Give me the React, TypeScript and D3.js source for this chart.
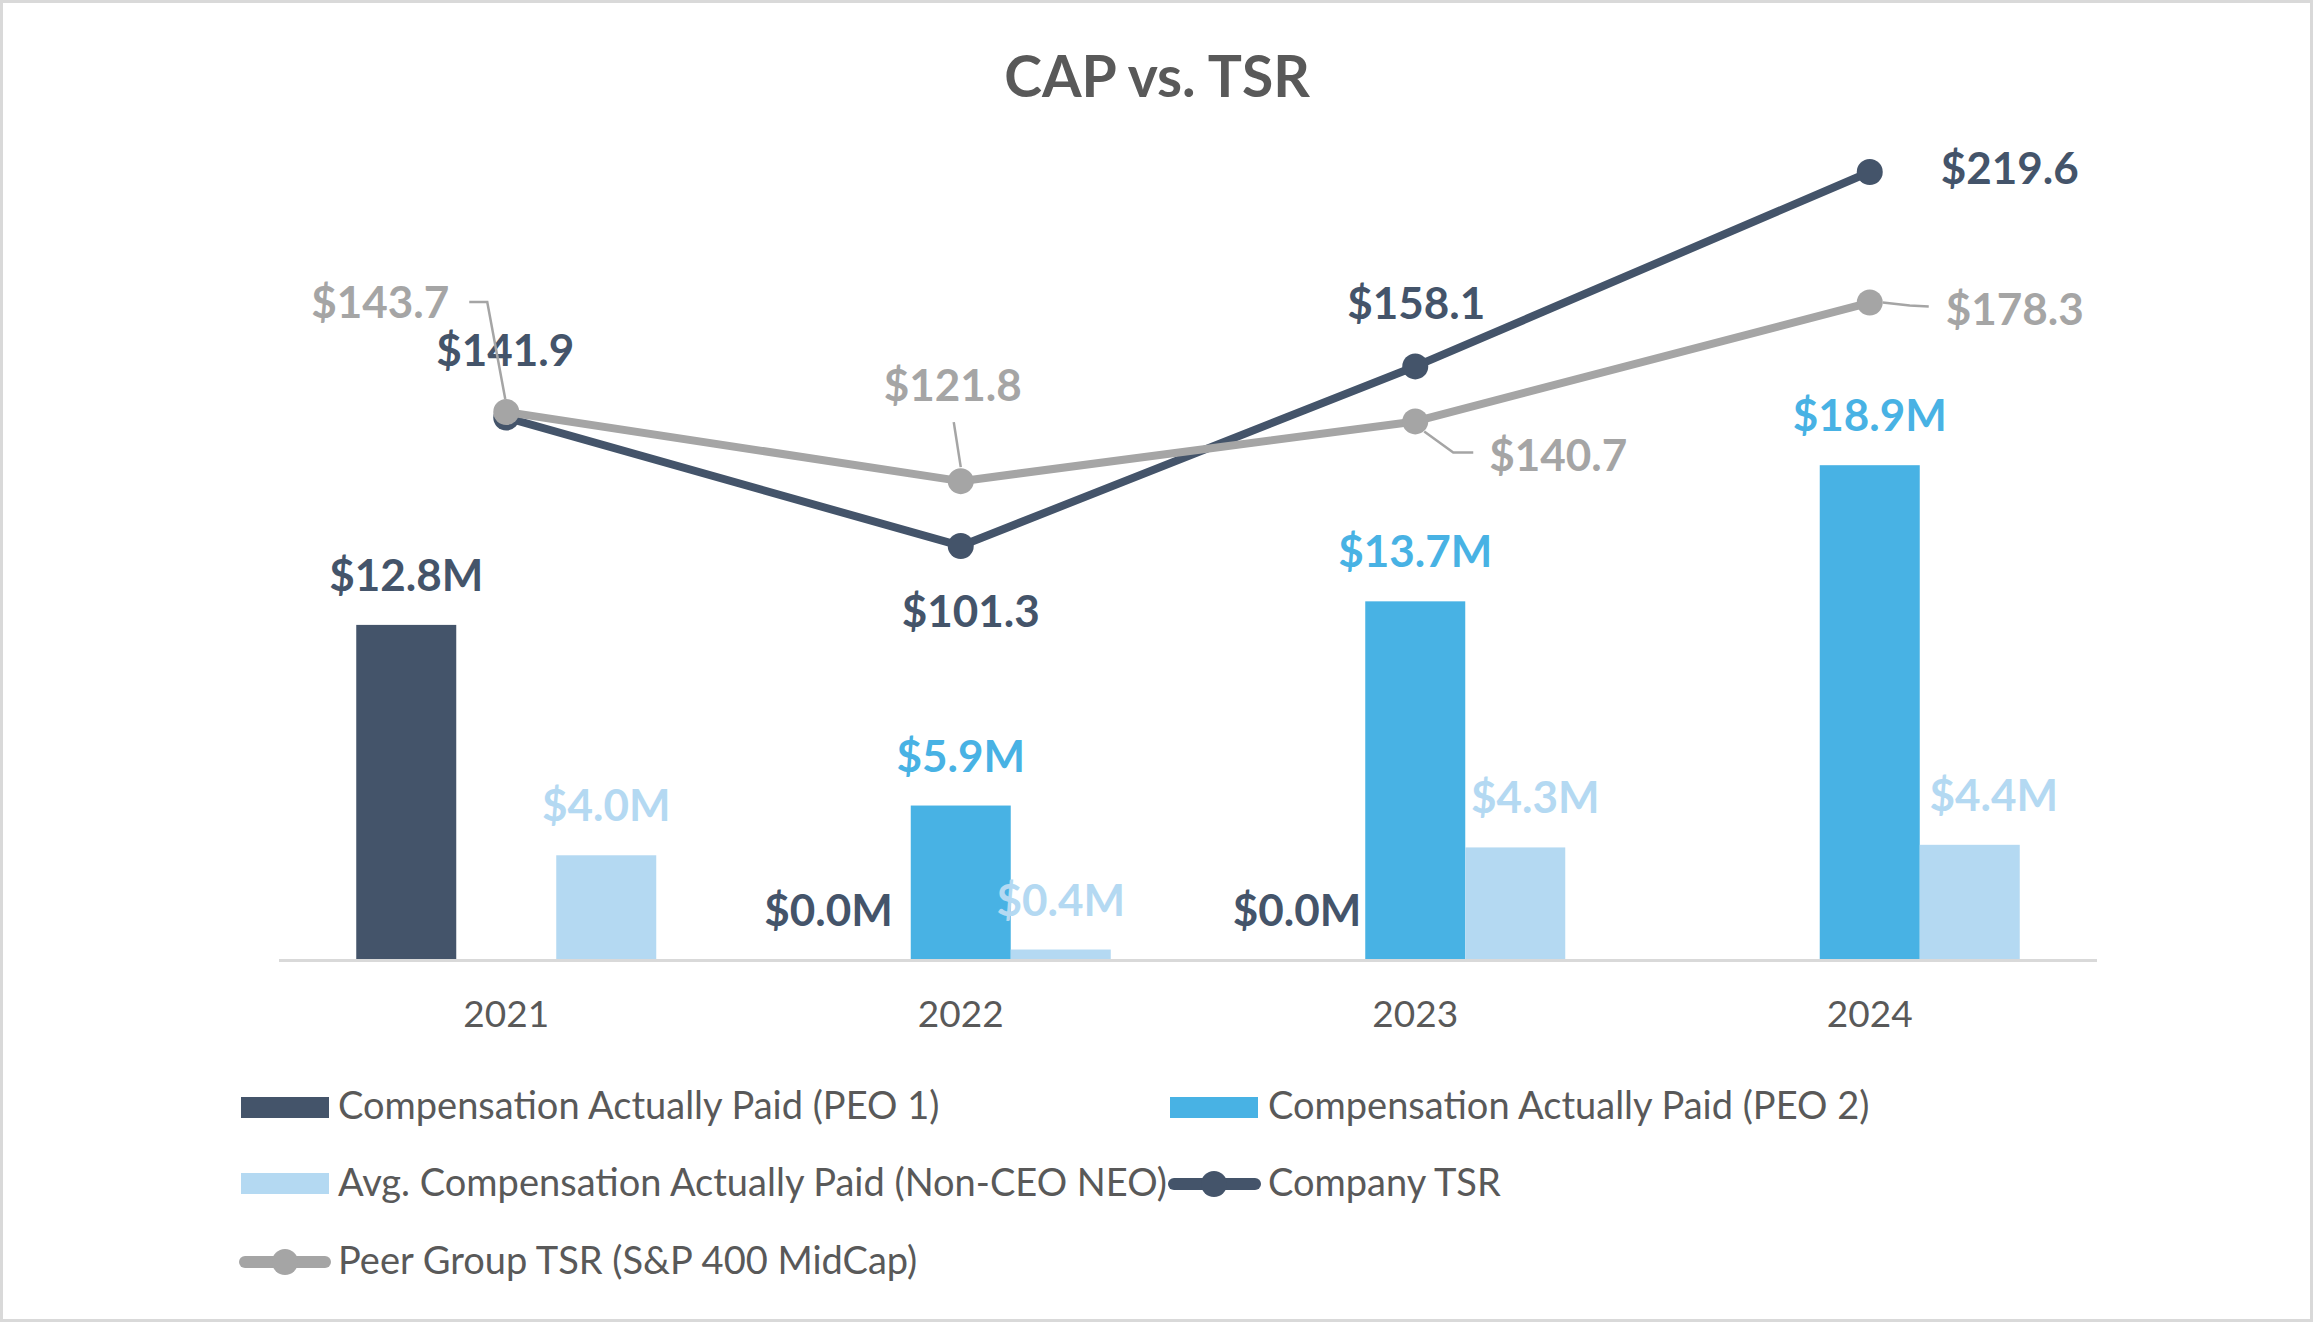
import React from "react";
import * as d3 from "d3";

const years = ["2021", "2022", "2023", "2024"];
const capPeo1: (number | null)[] = [12.8, 0.0, 0.0, null];
const capPeo2: (number | null)[] = [null, 5.9, 13.7, 18.9];
const capNonCeo: (number | null)[] = [4.0, 0.4, 4.3, 4.4];
const companyTsr = [141.9, 101.3, 158.1, 219.6];
const peerTsr = [143.7, 121.8, 140.7, 178.3];

const seriesNames = [
  "Compensation Actually Paid (PEO 1)",
  "Compensation Actually Paid (PEO 2)",
  "Avg. Compensation Actually Paid (Non-CEO NEO)",
  "Company TSR",
  "Peer Group TSR (S&P 400 MidCap)",
];

const W = 2313;
const H = 1322;
const FONT = "Lato, 'Open Sans', sans-serif";

const C_PEO1 = "#44546A";
const C_PEO2 = "#48B2E4";
const C_NON = "#B4D9F2";
const C_COMP = "#44546A";
const C_PEER = "#A5A5A5";
const C_TEXT = "#595959";

// label placement tweaks (relative to marker / bar), kept apart from the data
const compLabelPos = [
  { dx: -1, dy: -52, anchor: "middle" },
  { dx: 10, dy: 81, anchor: "middle" },
  { dx: 1, dy: -47, anchor: "middle" },
  { dx: 71, dy: 12, anchor: "start" },
];
const peerLabelPos = [
  { dx: -57, dy: -94, anchor: "end", leader: [[-37, -110], [-19, -110], [-1, -13]] },
  { dx: -8, dy: -80, anchor: "middle", leader: [[-7, -59], [0, -14]] },
  { dx: 74, dy: 50, anchor: "start", leader: [[9, 10], [38, 31], [58, 31]] },
  { dx: 76, dy: 22, anchor: "start", leader: [[13, 0], [40, 3], [59, 4]] },
];
// zero-value labels are right-aligned relative to the bar slot's right edge
const peo1ZeroDx = [0, -18, -4, 0];
const nonLabelDx = [0, 0, 20, 24];

export default function App() {
  const x = d3.scaleBand<string>().domain(years).range([279, 2097]).padding(0);
  const cx = (i: number) => (x(years[i]) as number) + x.bandwidth() / 2;
  const barW = 100;
  const yL = d3.scaleLinear().domain([0, 30]).range([960, 960 - 30 * 26.18]);
  const yR = d3.scaleLinear().domain([-30, 230]).range([961, 961 - 260 * 3.161]);

  const line = d3
    .line<number>()
    .x((_, i) => cx(i))
    .y((d) => yR(d));

  const barSeries = [
    { vals: capPeo1, color: C_PEO1, off: -1, dxs: [0, 0, 0, 0], zdx: peo1ZeroDx },
    { vals: capPeo2, color: C_PEO2, off: 0, dxs: [0, 0, 0, 0], zdx: [0, 0, 0, 0] },
    { vals: capNonCeo, color: C_NON, off: 1, dxs: nonLabelDx, zdx: [0, 0, 0, 0] },
  ];

  const labelStyle = { fontFamily: FONT, fontWeight: 700, fontSize: 44 } as const;

  return (
    <svg
      width={W}
      height={H}
      style={{ position: "absolute", left: 0, top: 0, background: "#fff" }}
    >
      <rect x={1.5} y={1.5} width={W - 3} height={H - 3} fill="#fff" stroke="#D9D9D9" strokeWidth={3} />
      <text x={1157} y={97} textAnchor="middle" fill={C_TEXT} style={{ fontFamily: FONT, fontWeight: 700, fontSize: 57 }}>
        CAP vs. TSR
      </text>

      {/* bars */}
      {barSeries.map((s, si) =>
        s.vals.map((v, i) =>
          v === null ? null : (
            <rect
              key={`b${si}-${i}`}
              x={cx(i) + s.off * barW - barW / 2}
              y={yL(v)}
              width={barW}
              height={yL(0) - yL(v)}
              fill={s.color}
            />
          )
        )
      )}

      {/* category axis */}
      <line x1={279} x2={2097} y1={960.5} y2={960.5} stroke="#D9D9D9" strokeWidth={3} />
      {years.map((yr, i) => (
        <text key={yr} x={cx(i)} y={1027} textAnchor="middle" fill={C_TEXT} style={{ fontFamily: FONT, fontSize: 37 }}>
          {yr}
        </text>
      ))}

      {/* bar labels */}
      {barSeries.map((s, si) =>
        s.vals.map((v, i) => {
          if (v === null) return null;
          const isZero = v === 0;
          const bx = cx(i) + s.off * barW;
          return (
            <text
              key={`bl${si}-${i}`}
              x={isZero ? bx + barW / 2 + s.zdx[i] : bx + s.dxs[i]}
              y={yL(v) - 34}
              textAnchor={isZero ? "end" : "middle"}
              fill={s.color}
              style={labelStyle}
            >
              {`$${v.toFixed(1)}M`}
            </text>
          );
        })
      )}

      {/* lines */}
      <path d={line(companyTsr) as string} fill="none" stroke={C_COMP} strokeWidth={8} strokeLinejoin="round" />
      {companyTsr.map((v, i) => (
        <circle key={`cm${i}`} cx={cx(i)} cy={yR(v)} r={13} fill={C_COMP} />
      ))}
      <path d={line(peerTsr) as string} fill="none" stroke={C_PEER} strokeWidth={8} strokeLinejoin="round" />
      {peerTsr.map((v, i) => (
        <circle key={`pm${i}`} cx={cx(i)} cy={yR(v)} r={13} fill={C_PEER} />
      ))}

      {/* line labels */}
      {companyTsr.map((v, i) => (
        <text
          key={`cl${i}`}
          x={cx(i) + compLabelPos[i].dx}
          y={yR(v) + compLabelPos[i].dy}
          textAnchor={compLabelPos[i].anchor as any}
          fill={C_COMP}
          style={labelStyle}
        >
          {`$${v.toFixed(1)}`}
        </text>
      ))}
      {peerTsr.map((v, i) => {
        const p = peerLabelPos[i];
        const px = cx(i);
        const py = yR(v);
        return (
          <g key={`pl${i}`}>
            <polyline
              points={p.leader.map(([a, b]) => `${px + a},${py + b}`).join(" ")}
              fill="none"
              stroke={C_PEER}
              strokeWidth={2.5}
            />
            <text x={px + p.dx} y={py + p.dy} textAnchor={p.anchor as any} fill={C_PEER} style={labelStyle}>
              {`$${v.toFixed(1)}`}
            </text>
          </g>
        );
      })}

      {/* legend */}
      <g style={{ fontFamily: FONT, fontSize: 38 }} fill={C_TEXT}>
        <rect x={241} y={1097} width={88} height={21} fill={C_PEO1} />
        <text x={338} y={1119}>{seriesNames[0]}</text>
        <rect x={1170} y={1097} width={88} height={21} fill={C_PEO2} />
        <text x={1268} y={1119}>{seriesNames[1]}</text>
        <rect x={241} y={1173} width={88} height={21} fill={C_NON} />
        <text x={338} y={1196}>{seriesNames[2]}</text>
        <line x1={1174} x2={1255} y1={1184} y2={1184} stroke={C_COMP} strokeWidth={12} strokeLinecap="round" />
        <circle cx={1214} cy={1184} r={13} fill={C_COMP} />
        <text x={1268} y={1196}>{seriesNames[3]}</text>
        <line x1={245} x2={325} y1={1262} y2={1262} stroke={C_PEER} strokeWidth={12} strokeLinecap="round" />
        <circle cx={285} cy={1262} r={13} fill={C_PEER} />
        <text x={338} y={1274}>{seriesNames[4]}</text>
      </g>
    </svg>
  );
}
